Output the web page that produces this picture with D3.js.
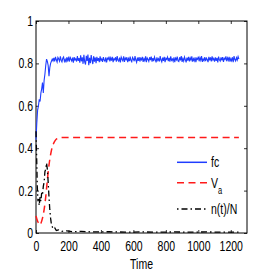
<!DOCTYPE html>
<html>
<head>
<meta charset="utf-8">
<script src="https://cdn.jsdelivr.net/npm/d3@7"></script>
<style>
  body { margin: 0; background: #fff; }
  text { font-family: "Liberation Sans", Arial, sans-serif; }
</style>
</head>
<body>
<script>
// fc sampled every 5 time units
var fcTime = d3.range(0, 1251, 5);
var fcValues = [
  0.44, 0.52, 0.58, 0.60, 0.63, 0.62, 0.66, 0.68, 0.71, 0.66,
  0.72, 0.75, 0.79, 0.82, 0.81, 0.79, 0.74, 0.78, 0.80, 0.81, 0.82,
  0.812, 0.826, 0.809, 0.831, 0.817, 0.806, 0.828, 0.821, 0.811, 0.833,
  0.815, 0.807, 0.824, 0.83, 0.81, 0.819, 0.805, 0.829, 0.814, 0.826,
  0.808, 0.832, 0.818, 0.811, 0.827, 0.804, 0.83, 0.816, 0.822, 0.809,
  0.834, 0.812, 0.825, 0.803, 0.838, 0.81, 0.829, 0.798, 0.84, 0.807,
  0.795, 0.836, 0.812, 0.842, 0.792, 0.826, 0.801, 0.839, 0.815, 0.797,
  0.834, 0.808, 0.828, 0.801, 0.831, 0.812, 0.825, 0.806, 0.833, 0.814,
  0.821, 0.807, 0.83, 0.816, 0.81, 0.828, 0.805, 0.824, 0.819, 0.832,
  0.809, 0.826, 0.813, 0.831, 0.806, 0.822, 0.817, 0.829, 0.808, 0.834,
  0.815, 0.81, 0.827, 0.805, 0.83, 0.82, 0.812, 0.833, 0.807, 0.825,
  0.818, 0.829, 0.806, 0.823, 0.811, 0.832, 0.814, 0.808, 0.828, 0.821,
  0.81, 0.834, 0.816, 0.805, 0.827, 0.812, 0.83, 0.809, 0.824, 0.817,
  0.831, 0.807, 0.822, 0.813, 0.833, 0.806, 0.826, 0.819, 0.81, 0.829,
  0.815, 0.832, 0.808, 0.825, 0.811, 0.83, 0.818, 0.805, 0.828, 0.814,
  0.822, 0.809, 0.834, 0.816, 0.807, 0.827, 0.812, 0.831, 0.806, 0.824,
  0.819, 0.83, 0.811, 0.826, 0.808, 0.833, 0.815, 0.821, 0.81, 0.828,
  0.806, 0.825, 0.817, 0.832, 0.812, 0.809, 0.829, 0.814, 0.834, 0.807,
  0.823, 0.811, 0.83, 0.818, 0.805, 0.827, 0.813, 0.831, 0.809, 0.826,
  0.816, 0.833, 0.808, 0.822, 0.812, 0.829, 0.806, 0.824, 0.819, 0.832,
  0.81, 0.827, 0.815, 0.834, 0.807, 0.821, 0.813, 0.83, 0.811, 0.825,
  0.818, 0.806, 0.831, 0.814, 0.828, 0.809, 0.833, 0.816, 0.823, 0.808,
  0.829, 0.812, 0.826, 0.805, 0.832, 0.817, 0.811, 0.828, 0.814, 0.83,
  0.807, 0.824, 0.819, 0.833, 0.81, 0.826, 0.815, 0.831, 0.808, 0.822,
  0.813, 0.829, 0.806, 0.834, 0.818, 0.811, 0.827, 0.816, 0.832, 0.82
];

var vaTime   = [0, 10, 20, 25, 30, 40, 50, 60, 70, 80, 90, 100, 110, 120, 130, 140, 160, 200, 1250];
var vaValues = [0.08, 0.055, 0.042, 0.038, 0.045, 0.07, 0.11, 0.17, 0.25, 0.32, 0.37, 0.405, 0.425, 0.438, 0.445, 0.448, 0.45, 0.45, 0.45];

var nTime   = [0, 4, 8, 12, 16, 20, 25, 30, 35, 40, 45, 50, 55, 60, 65, 70, 75, 80, 85, 90, 95, 100, 105, 115, 125, 140, 160, 190, 230, 280, 350, 450, 550, 650, 750, 850, 950, 1050, 1150, 1250];
var nValues = [0.48, 0.36, 0.22, 0.15, 0.16, 0.13, 0.17, 0.15, 0.19, 0.18, 0.22, 0.24, 0.29, 0.30, 0.33, 0.30, 0.24, 0.17, 0.11, 0.07, 0.04, 0.03, 0.02, 0.025, 0.012, 0.015, 0.008, 0.01, 0.006, 0.008, 0.005, 0.006, 0.004, 0.005, 0.004, 0.005, 0.004, 0.005, 0.004, 0.004];

var xTicks = [0, 200, 400, 600, 800, 1000, 1200];
var yTicks = [0, 0.2, 0.4, 0.6, 0.8, 1];
var legendLabels = ["fc", "V", "n(t)/N"];

var margin = {top: 21, right: 26, bottom: 40, left: 36},
    width = 273 - margin.left - margin.right,
    height = 273 - margin.top - margin.bottom;

var svg = d3.select("body").append("svg")
    .attr("width", 273)
    .attr("height", 273)
  .append("g")
    .attr("transform", `translate(${margin.left},${margin.top})`);

var x = d3.scaleLinear().domain([0, 1300]).range([0, width]);
var y = d3.scaleLinear().domain([0, 1]).range([height, 0]);

function styleAxis(g) {
  g.select(".domain").remove();
  g.selectAll("line").attr("stroke", "#000").attr("stroke-width", 0.8);
  g.selectAll("text").attr("font-size", 14).attr("fill", "#000");
}

svg.append("g")
    .attr("transform", `translate(0,${height})`)
    .call(d3.axisBottom(x).tickValues(xTicks).tickSize(-3).tickPadding(8).tickFormat(d3.format("d")))
    .call(styleAxis)
    .selectAll("text").attr("transform", "scale(0.75,1)");

svg.append("g")
    .call(d3.axisLeft(y).tickValues(yTicks).tickSize(-3).tickPadding(4).tickFormat(d => d === 0 || d === 1 ? d : d3.format(".1f")(d)))
    .call(styleAxis)
    .selectAll("text").attr("transform", "scale(0.75,1)");

svg.append("g")
    .call(d3.axisTop(x).tickValues(xTicks).tickSize(-3).tickFormat(""))
    .call(styleAxis);

svg.append("g")
    .attr("transform", `translate(${width},0)`)
    .call(d3.axisRight(y).tickValues(yTicks).tickSize(-3).tickFormat(""))
    .call(styleAxis);

svg.append("rect")
    .attr("width", width).attr("height", height)
    .attr("fill", "none").attr("stroke", "#000").attr("stroke-width", 1);

var line = d3.line().x(d => x(d[0])).y(d => y(d[1]));

svg.append("path")
    .datum(d3.zip(fcTime, fcValues))
    .attr("d", line)
    .attr("fill", "none").attr("stroke", "#1f3dff").attr("stroke-width", 1.1);

svg.append("path")
    .datum(d3.zip(vaTime, vaValues))
    .attr("d", line.curve(d3.curveMonotoneX))
    .attr("fill", "none").attr("stroke", "#ff1a1a").attr("stroke-width", 1.5)
    .attr("stroke-dasharray", "7,4.5");

svg.append("path")
    .datum(d3.zip(nTime, nValues))
    .attr("d", line.curve(d3.curveLinear))
    .attr("fill", "none").attr("stroke", "#000").attr("stroke-width", 1.3)
    .attr("stroke-dasharray", "6,3,1.5,3");

// legend
var legend = svg.append("g");
var rows = [
  {y: 141.3, color: "#1f3dff", dash: null},
  {y: 161.7, color: "#ff1a1a", dash: "7,4.5"},
  {y: 188, color: "#000", dash: "1.5,3,6,3"}
];
rows.forEach((r, i) => {
  legend.append("line")
      .attr("x1", 141).attr("x2", 171)
      .attr("y1", r.y).attr("y2", r.y)
      .attr("stroke", r.color).attr("stroke-width", 1.5)
      .attr("stroke-dasharray", r.dash);
  var t = legend.append("text")
      .attr("transform", `translate(175,${r.y + 5}) scale(0.75,1)`)
      .attr("font-size", 14)
      .text(legendLabels[i]);
  if (i === 1) {
    t.append("tspan").attr("font-size", 10).attr("dy", 6).text("a");
  }
});

svg.append("text")
    .attr("transform", `translate(${width / 2},${height + 36}) scale(0.75,1)`)
    .attr("text-anchor", "middle")
    .attr("font-size", 14)
    .text("Time");
</script>
</body>
</html>
